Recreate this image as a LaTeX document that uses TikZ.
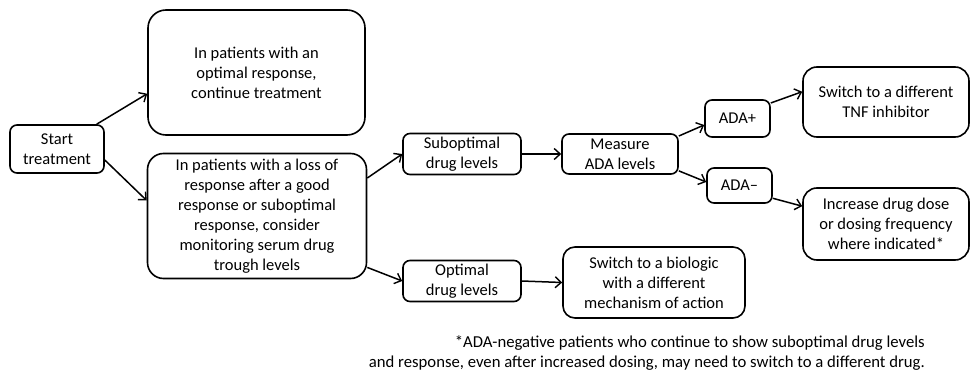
\documentclass[tikz,border=0pt]{standalone}
\usepackage{fontspec}
\setmainfont{Carlito}
\usetikzlibrary{arrows.meta}
\begin{document}
\begin{tikzpicture}[x=1pt,y=-1pt,
  box/.style={draw, line width=1.6pt, align=center, inner sep=1pt,
    font=\fontsize{16.5}{20}\selectfont},
  bigbox/.style={box, rounded corners=18pt},
  smallbox/.style={box, rounded corners=7pt},
  conn/.style={line width=1.5pt, -{Straight Barb[length=6pt,width=11pt,line width=1.4pt]}},
  fn/.style={font=\fontsize{16.7}{20}\selectfont, inner sep=0pt, anchor=east}]
\useasboundingbox (0,0) rectangle (971,377);
\node[smallbox, minimum width=94pt, minimum height=48pt] (start) at (57,149) {Start\\treatment};
\node[bigbox, minimum width=217pt, minimum height=125pt] (opt1) at (256.5,72.5) {In patients with an\\optimal response,\\continue treatment};
\node[bigbox, rounded corners=16pt, minimum width=219pt, minimum height=125pt] (loss) at (257,216) {In patients with a loss of\\response after a good\\response or suboptimal\\response, consider\\monitoring serum drug\\trough levels};
\node[smallbox, minimum width=118pt, minimum height=41pt] (sub) at (462,154) {Suboptimal\\drug levels};
\node[smallbox, minimum width=116pt, minimum height=40pt] (meas) at (620,154) {Measure\\ADA levels};
\node[smallbox, minimum width=118pt, minimum height=41pt] (optl) at (462,281) {Optimal\\drug levels};
\node[bigbox, rounded corners=12pt, minimum width=182pt, minimum height=71pt] (bio) at (654,282.5) {Switch to a biologic\\with a different\\mechanism of action};
\node[smallbox, minimum width=65pt, minimum height=37pt] (adap) at (737.5,118.5) {ADA+};
\node[smallbox, minimum width=65pt, minimum height=35pt] (adam) at (739.5,185.5) {ADA–};
\node[bigbox, rounded corners=14pt, minimum width=166pt, minimum height=70pt] (tnf) at (886,102) {Switch to a different\\TNF inhibitor};
\node[bigbox, rounded corners=14pt, minimum width=166pt, minimum height=72pt] (inc) at (886,224) {Increase drug dose\\or dosing frequency\\where indicated*};
\node[fn] (fn1) at (925,343) {*ADA-negative patients who continue to show suboptimal drug levels};
\node[fn] (fn2) at (925,363) {and response, even after increased dosing, may need to switch to a different drug.};
\draw[conn] (start.32) -- (opt1.191);
\draw[conn] (start.-13) -- (loss.172);
\draw[conn] (loss.19) -- (sub.west);
\draw[conn] (loss.-25) -- (optl.west);
\draw[conn] (sub.east) -- (meas.west);
\draw[conn] (optl.east) -- (bio.west);
\draw[conn] (meas.17) -- (adap.191);
\draw[conn] (meas.-16) -- (adam.174);
\draw[conn] (adap.25) -- (tnf.173);
\draw[conn] (adam.-21) -- (inc.168);
\end{tikzpicture}
\end{document}
